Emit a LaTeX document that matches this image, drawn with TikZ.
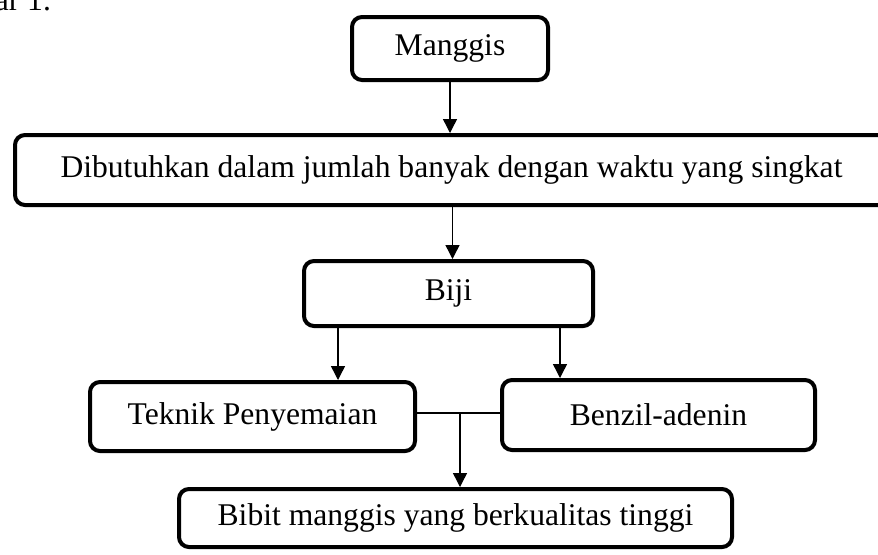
\documentclass[tikz,border=0pt]{standalone}
\usepackage{fontspec}
\setmainfont{Liberation Serif}
\usetikzlibrary{arrows.meta}

\tikzset{
  box/.style={draw, line width=2pt, rounded corners=5pt, inner sep=0pt,
    font=\fontsize{15.8}{18}\selectfont},
  arr/.style={line width=0.7pt, -{Triangle[length=7pt,width=7pt]}},
  link/.style={line width=0.7pt}
}

\begin{document}
\begin{tikzpicture}[x=0.5pt,y=-0.5pt]
\useasboundingbox (0,0) rectangle (878,554);

\node[anchor=base east, font=\fontsize{15.8}{18}\selectfont] (cap) at (58,10) {bar 1.};

\node[box, minimum width=98pt, minimum height=31.5pt] (manggis) at (450,48.5) {Manggis};
% box runs past the right edge of the page
\node[box, minimum width=436.5pt, minimum height=35pt] (butuh) at (451.5,170)
  {Dibutuhkan dalam jumlah banyak dengan waktu yang singkat\hspace{6pt}};
\node[box, minimum width=144.5pt, minimum height=32.5pt] (biji) at (448.5,293.5) {Biji};
\node[box, minimum width=162.5pt, minimum height=34.5pt] (semai) at (252.5,416.5) {Teknik Penyemaian};
\node[box, minimum width=156.5pt, minimum height=35pt] (benzil) at (658.5,415) {Benzil-adenin};
\node[box, minimum width=276.5pt, minimum height=29pt] (bibit) at (455.5,518)
  {Bibit manggis yang berkualitas tinggi};

\coordinate (kiri) at (338,0);
\coordinate (kanan) at (560,0);
\coordinate (temu) at (460,413);

\draw[arr] (manggis.south) -- (manggis.south |- butuh.north);
\draw[arr] ([xshift=2pt]biji.north |- butuh.south) -- ([xshift=2pt]biji.north);
\draw[arr] (biji.south -| kiri) -- (semai.north -| kiri);
\draw[arr] (biji.south -| kanan) -- (benzil.north -| kanan);
\draw[link] (semai.east |- temu) -- (benzil.west |- temu);
\draw[arr] (temu) -- (bibit.north -| temu);
\end{tikzpicture}
\end{document}
